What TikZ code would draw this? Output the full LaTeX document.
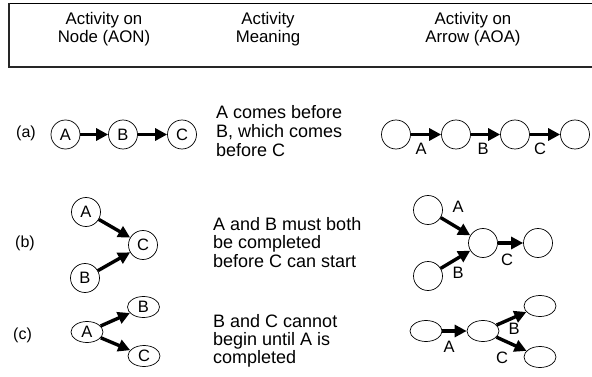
\documentclass[tikz,border=0pt]{standalone}
\usepackage{fontspec}
\setmainfont{Liberation Sans}
\usetikzlibrary{shapes.geometric,arrows.meta}
\begin{document}
\begin{tikzpicture}[x=1pt,y=-1pt,
  ev/.style={circle,draw,line width=0.7pt,minimum size=29pt,inner sep=0pt,font=\fontsize{16.5}{18}\selectfont},
  evl/.style={ellipse,draw,line width=0.7pt,minimum width=32pt,minimum height=21pt,inner sep=0pt,font=\fontsize{16.5}{18}\selectfont},
  act/.style={line width=3.4pt,-{Triangle[length=12pt,width=12pt]}},
  lab/.style={inner sep=0pt,font=\fontsize{16.5}{18}\selectfont},
  hd/.style={inner sep=0pt,anchor=base,font=\fontsize{16.8}{18}\selectfont},
  txt/.style={inner sep=0pt,anchor=base west,font=\fontsize{18}{18.5}\selectfont},
  rowlab/.style={inner sep=0pt,anchor=west,font=\fontsize{16}{18}\selectfont}]
\useasboundingbox (0,0) rectangle (592,377);
% header frame
\draw[line width=0.8pt] (593,3) -- (9,3);
\draw[line width=1.1pt,black!85] (9,3) -- (9,67) -- (593,67);
\node[hd] (h1a) at (104,25) {Activity on};
\node[hd] (h1b) at (104,43) {Node (AON)};
\node[hd] (h2a) at (268,25) {Activity};
\node[hd] (h2b) at (268,43) {Meaning};
\node[hd] (h3a) at (473,25) {Activity on};
\node[hd] (h3b) at (473,43) {Arrow (AOA)};
% row labels
\node[rowlab] (ra) at (16,133) {(a)};
\node[rowlab] (rb) at (15,243) {(b)};
\node[rowlab] (rc) at (13,335) {(c)};
% meaning texts
\node[txt] (ta1) at (216,119) {A comes before};
\node[txt] (ta2) at (216,138) {B, which comes};
\node[txt] (ta3) at (216,157) {before C};
\node[txt] (tb1) at (213,230) {A and B must both};
\node[txt] (tb2) at (213,248.5) {be completed};
\node[txt] (tb3) at (213,267) {before C can start};
\node[txt] (tc1) at (213,327) {B and C cannot};
\node[txt] (tc2) at (213,345) {begin until A is};
\node[txt] (tc3) at (213,363) {completed};
% AON (a)
\node[ev] (aA) at (65.5,134.5) {A};
\node[ev] (aB) at (123,134.5) {B};
\node[ev] (aC) at (182,134.5) {C};
\draw[act] (aA) -- (aB);
\draw[act] (aB) -- (aC);
% AON (b)
\node[ev] (bA) at (86,212) {A};
\node[ev] (bB) at (85,278) {B};
\node[ev] (bC) at (143,245) {C};
\draw[act] (bA) -- (bC);
\draw[act] (bB) -- (bC);
% AON (c)
\node[evl] (cA) at (87,332) {A};
\node[evl] (cB) at (143.5,307) {B};
\node[evl] (cC) at (144,356) {C};
\draw[act] (cA) -- (cB);
\draw[act] (cA) -- (cC);
% AOA (a)
\node[ev] (p1) at (396,134.5) {};
\node[ev] (p2) at (456,134.5) {};
\node[ev] (p3) at (515,134.5) {};
\node[ev] (p4) at (575,134.5) {};
\draw[act] (p1) -- (p2);
\draw[act] (p2) -- (p3);
\draw[act] (p3) -- (p4);
\node[lab] (lpa) at (421,149) {A};
\node[lab] (lpb) at (483,149) {B};
\node[lab] (lpc) at (540,149) {C};
% AOA (b)
\node[ev] (q1) at (428,210) {};
\node[ev] (q2) at (428,276) {};
\node[ev] (q3) at (483,243) {};
\node[ev] (q4) at (538,243) {};
\draw[act] (q1) -- (q3);
\draw[act] (q2) -- (q3);
\draw[act] (q3) -- (q4);
\node[lab] (lqa) at (458,207) {A};
\node[lab] (lqb) at (458,273) {B};
\node[lab] (lqc) at (507,260) {C};
% AOA (c)
\node[evl] (s1) at (426,331) {};
\node[evl] (s2) at (483,331) {};
\node[evl] (s3) at (540,306) {};
\node[evl] (s4) at (540,357) {};
\draw[act] (s1) -- (s2);
\draw[act] (s2) -- (s3);
\draw[act] (s2) -- (s4);
\node[lab] (lsa) at (449,347) {A};
\node[lab] (lsb) at (514,329) {B};
\node[lab] (lsc) at (502,358) {C};
\end{tikzpicture}
\end{document}
